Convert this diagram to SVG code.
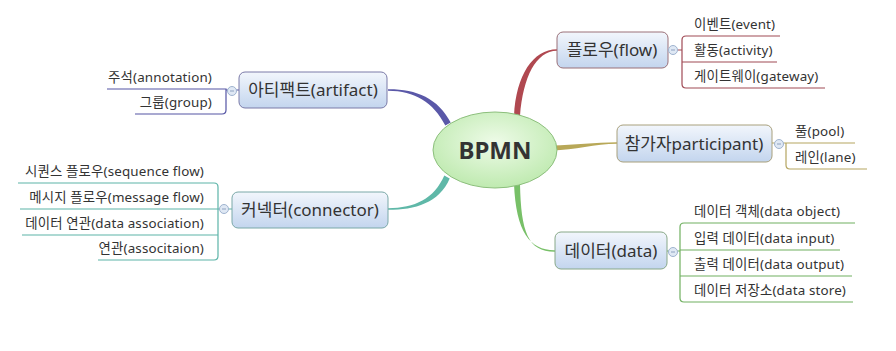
<svg xmlns="http://www.w3.org/2000/svg" width="896" height="351" viewBox="0 0 896 351">
<defs>
<linearGradient id="box" x1="0" y1="0" x2="0" y2="1">
<stop offset="0" stop-color="#f2f6fc"/>
<stop offset="1" stop-color="#c3d5ee"/>
</linearGradient>
<radialGradient id="ell" cx="0.5" cy="0.4" r="0.6">
<stop offset="0" stop-color="#eefbe8"/>
<stop offset="1" stop-color="#bfeab0"/>
</radialGradient>
</defs>
<style>
text{font-family:"Noto Sans","Noto Sans CJK KR",sans-serif;fill:#333}
.nt{font-size:17px;text-anchor:middle}
.ct{font-size:13.4px;letter-spacing:0.15px}
.r{text-anchor:end}
.box{fill:url(#box);stroke-width:1}
.br{fill:none;stroke-width:1.2}
.dot{fill:#dfe8f4;stroke:#9fb3cf;stroke-width:1}
.dash{stroke:#8ea2c0;stroke-width:1}
</style>
<rect width="896" height="351" fill="#ffffff"/>
<g id="connectors">
<path d="M388,89.25 C416,89 438,98 450.7,122.6 L445.3,125.4 C433,102 415,91 388,90.75 Z" fill="#5a58a8"/>
<path d="M388,208.25 C415,208 434,199 444.3,175.6 L449.7,178.4 C439,203 415,209.8 388,209.75 Z" fill="#5fb8a8"/>
<path d="M557,49.25 C533,49.5 516,75 514,116 L520,116 C523,77 536,51 557,50.75 Z" fill="#b04850"/>
<path d="M552,145.5 C575,145 595,142.5 617,142.25 L617,143.75 C595,144 575,150 552,150.5 Z" fill="#b8a858"/>
<path d="M514,184 C516,232 530,250.5 555,250.25 L555,251.75 C528,252 521,232 520,184 Z" fill="#78c068"/>
</g>
<g id="bpmn">
<ellipse cx="495" cy="150" rx="62" ry="38" fill="url(#ell)" stroke="#8cbf7c" stroke-width="1"/>
<text x="495" y="159" style="font-size:24px;font-weight:bold;text-anchor:middle;fill:#333">BPMN</text>
</g>
<g id="flow">
<path class="br" stroke="#a04a55" d="M668,50 H682 M780,36 H686 Q682,36 682,40 V84 Q682,88 686,88 H825 M682,62 H777"/>
<rect class="box" x="557" y="32" width="111" height="36" rx="6" stroke="#9a7078"/>
<text class="nt" x="612" y="56">플로우(flow)</text>
<circle class="dot" cx="673" cy="50" r="4.5"/><path class="dash" d="M671,50 H675"/>
<text class="ct" x="694" y="29">이벤트(event)</text>
<text class="ct" x="694" y="55">활동(activity)</text>
<text class="ct" x="694" y="81">게이트웨이(gateway)</text>
</g>
<g id="participant">
<path class="br" stroke="#b5a560" d="M772,143 H786 M855,143 H786 V165 Q786,169 790,169 H867"/>
<rect class="box" x="617" y="125" width="155" height="37" rx="6" stroke="#a8a07c"/>
<text class="nt" x="694" y="150">참가자participant)</text>
<circle class="dot" cx="779" cy="144" r="4.5"/><path class="dash" d="M777,144 H781"/>
<text class="ct" x="795" y="136">풀(pool)</text>
<text class="ct" x="795" y="162">레인(lane)</text>
</g>
<g id="data">
<path class="br" stroke="#70b060" d="M667,251 H680 M855,223 H684 Q680,223 680,227 V298 Q680,302 684,302 H853 M680,250 H840 M680,276 H852"/>
<rect class="box" x="555" y="232" width="112" height="37" rx="6" stroke="#88a888"/>
<text class="nt" x="611" y="257">데이터(data)</text>
<circle class="dot" cx="673" cy="252" r="4.5"/><path class="dash" d="M671,252 H675"/>
<text class="ct" x="694" y="216">데이터 객체(data object)</text>
<text class="ct" x="694" y="243">입력 데이터(data input)</text>
<text class="ct" x="694" y="269">출력 데이터(data output)</text>
<text class="ct" x="694" y="295">데이터 저장소(data store)</text>
</g>
<g id="artifact">
<path class="br" stroke="#5454a4" d="M239,90 H226 M107,89 H226 V110 Q226,114 222,114 H135"/>
<rect class="box" x="239" y="72" width="148" height="36" rx="6" stroke="#7a7aa8"/>
<text class="nt" x="313" y="96">아티팩트(artifact)</text>
<circle class="dot" cx="232" cy="91" r="4.5"/><path class="dash" d="M230,91 H234"/>
<text class="ct r" x="212" y="82">주석(annotation)</text>
<text class="ct r" x="212" y="107">그룹(group)</text>
</g>
<g id="connector">
<path class="br" stroke="#5cb4a8" d="M232,209 H218 M18,183 H214 Q218,183 218,187 V256 Q218,260 214,260 H98 M20,209 H218 M22,235 H218"/>
<rect class="box" x="232" y="192" width="156" height="36" rx="6" stroke="#7aa8a8"/>
<text class="nt" x="310" y="216">커넥터(connector)</text>
<circle class="dot" cx="224" cy="209" r="4.5"/><path class="dash" d="M222,209 H226"/>
<text class="ct r" x="204" y="176">시퀀스 플로우(sequence flow)</text>
<text class="ct r" x="204" y="202">메시지 플로우(message flow)</text>
<text class="ct r" x="204" y="228">데이터 연관(data association)</text>
<text class="ct r" x="204" y="253">연관(associtaion)</text>
</g>
</svg>
